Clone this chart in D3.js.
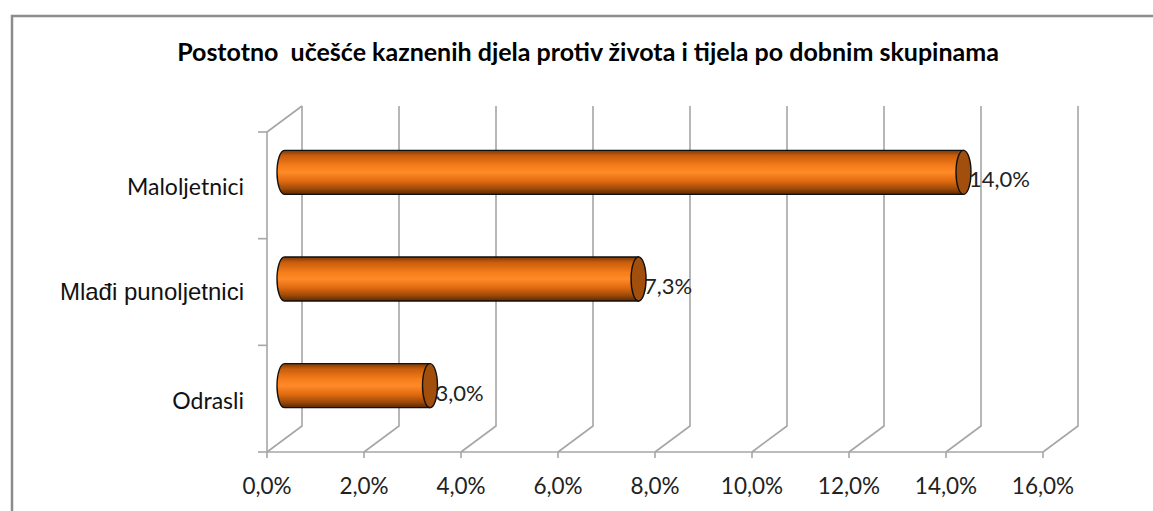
<!DOCTYPE html>
<html><head><meta charset="utf-8">
<script src="https://cdn.jsdelivr.net/npm/d3@7"></script>
<style>body{margin:0;background:#fff;}svg{display:block;}</style>
</head><body>
<svg id="c" width="1153" height="511"></svg>
<script>
const title = "Postotno  učešće kaznenih djela protiv života i tijela po dobnim skupinama";
const categories = ["Maloljetnici", "Mlađi punoljetnici", "Odrasli"];
const values = [0.140, 0.073, 0.030];
const valueLabels = ["14,0%", "7,3%", "3,0%"];
const tickValues = [0, 0.02, 0.04, 0.06, 0.08, 0.10, 0.12, 0.14, 0.16];
const tickLabels = ["0,0%", "2,0%", "4,0%", "6,0%", "8,0%", "10,0%", "12,0%", "14,0%", "16,0%"];

const svg = d3.select("#c");
const DX = 35, DY = -26; // depth offset of back wall
const x = d3.scaleLinear().domain([0, 0.16]).range([267, 1043]);
const y = d3.scaleBand().domain(categories).range([132, 452]).padding(0);
const grid = "#a6a6a6";
const F = "Lato, 'Open Sans', sans-serif";

// outer frame
svg.append("path").attr("d", "M12,512 V16 H1160").attr("fill", "none").attr("stroke", "#8c8c8c").attr("stroke-width", 2.5);

// title
svg.append("text").attr("x", 588).attr("y", 61).attr("text-anchor", "middle")
  .style("white-space", "pre")
  .attr("font-family", F).attr("font-weight", "bold")
  .attr("font-size", 25).attr("fill", "#000").text(title);

const g = svg.append("g");
const y0 = y.range()[1], yTop = y.range()[0];
// gridlines (back wall verticals + floor diagonals)
tickValues.forEach(t => {
  const xf = x(t);
  g.append("path").attr("d", `M${xf},${y0} L${xf + DX},${y0 + DY} V${yTop + DY}`)
    .attr("fill", "none").attr("stroke", grid).attr("stroke-width", 1.6);
});
// left wall
g.append("path").attr("d", `M${x(0)},${y0} V${yTop} L${x(0) + DX},${yTop + DY}`)
  .attr("fill", "none").attr("stroke", grid).attr("stroke-width", 1.6);
// floor front line
g.append("line").attr("x1", x(0)).attr("x2", x(0.16)).attr("y1", y0).attr("y2", y0)
  .attr("stroke", grid).attr("stroke-width", 1.6);
// category ticks on left
const catTicks = [yTop].concat(categories.map(c => y(c) + y.bandwidth()));
catTicks.forEach(v => g.append("line").attr("x1", x(0) - 9).attr("x2", x(0)).attr("y1", v).attr("y2", v)
  .attr("stroke", grid).attr("stroke-width", 1.6));
// x ticks
tickValues.forEach(t => g.append("line").attr("x1", x(t)).attr("x2", x(t)).attr("y1", y0).attr("y2", y0 + 6)
  .attr("stroke", grid).attr("stroke-width", 1.6));
// x tick labels
g.selectAll(".xl").data(tickValues).enter().append("text")
  .attr("x", d => x(d)).attr("y", 494).attr("text-anchor", "middle")
  .attr("font-family", F).attr("font-size", 22.5).attr("fill", "#222")
  .text((d, i) => tickLabels[i]);

// category labels
categories.forEach((c, i) => {
  const isArial = i === 1;
  g.append("text").attr("x", 244).attr("y", y(c) + y.bandwidth() / 2 + (isArial ? 8 : 10))
    .attr("text-anchor", "end")
    .attr("font-family", isArial ? "'Liberation Sans', Arial, sans-serif" : F)
    .attr("font-size", isArial ? 24 : 23).attr("fill", "#111").text(c);
});

// gradient for cylinders
const defs = svg.append("defs");
const grad = defs.append("linearGradient").attr("id", "cyl").attr("x1", 0).attr("y1", 0).attr("x2", 0).attr("y2", 1);
[[0, "#7a3804"], [0.12, "#c85d0c"], [0.35, "#f57d1a"], [0.5, "#ff8a28"], [0.7, "#e06a10"], [0.88, "#9a4808"], [1, "#5a2803"]]
  .forEach(s => grad.append("stop").attr("offset", s[0]).attr("stop-color", s[1]));

// cylinders
const H = 44, RX = 7.5;
categories.forEach((c, i) => {
  const cy = y(c) + y.bandwidth() / 2 + DY / 2;
  const xa = x(0) + DX / 2, xb = x(values[i]) + DX / 2;
  const t = cy - H / 2, b = cy + H / 2;
  const d = `M${xb},${t} H${xa} A${RX},${H / 2} 0 0 0 ${xa},${b} H${xb} Z`;
  g.append("path").attr("d", d).attr("fill", "url(#cyl)").attr("stroke", "#111").attr("stroke-width", 1.4);
  g.append("ellipse").attr("cx", xb).attr("cy", cy).attr("rx", RX).attr("ry", H / 2)
    .attr("fill", "#a24e0c").attr("stroke", "#111").attr("stroke-width", 1.4);
  g.append("text").attr("x", xb + RX - 2).attr("y", cy + 15)
    .attr("font-family", F).attr("font-size", 22).attr("fill", "#222")
    .text(valueLabels[i]);
});
</script>
</body></html>
